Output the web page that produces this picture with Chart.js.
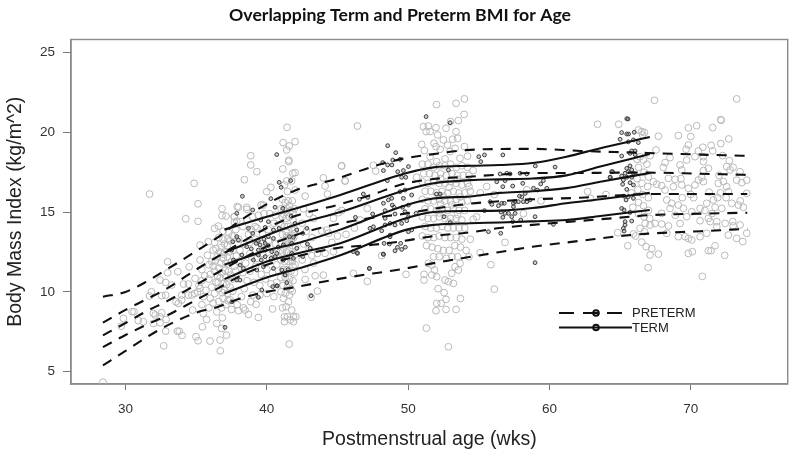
<!DOCTYPE html>
<html>
<head>
<meta charset="utf-8">
<title>Overlapping Term and Preterm BMI for Age</title>
<script src="https://cdn.jsdelivr.net/npm/chart.js@4"></script>
<style>
  html, body { margin: 0; padding: 0; background: #fff; }
  #wrap { width: 795px; height: 457px; }
  canvas { filter: blur(0.35px); }
</style>
</head>
<body>
<div id="wrap"><canvas id="bmiChart"></canvas></div>
<script>
// Main

const chartTitle = "Overlapping Term and Preterm BMI for Age";
const xLabel = "Postmenstrual age (wks)";
const yLabel = "Body Mass Index (kg/m^2)";
const seriesNames = ["PRETERM", "TERM"];
const xTicks = [30, 40, 50, 60, 70];
const yTicks = [5, 10, 15, 20, 25];

// percentile curves
const pretermAges = [28.4, 30, 31.5, 33, 35, 36.5, 38, 40, 42, 45, 47.5, 49.4, 51.8, 54.1, 56.5, 58.8, 62.2, 65, 67, 70.7, 74];
const pretermCurves = [
  [9.7, 10.0, 10.65, 11.45, 12.55, 13.4, 14.4, 15.5, 16.35, 17.1, 17.85, 18.3, 18.63, 18.88, 18.95, 18.96, 18.83, 18.75, 18.7, 18.6, 18.52],
  [8.07, 8.87, 9.55, 10.25, 11.4, 12.2, 13, 14, 14.75, 15.45, 16.1, 16.7, 17.07, 17.2, 17.35, 17.45, 17.45, 17.47, 17.47, 17.4, 17.33],
  [7.28, 8.05, 8.8, 9.45, 10.45, 11.2, 11.95, 12.85, 13.55, 14.25, 14.65, 14.85, 15.2, 15.5, 15.68, 15.8, 15.9, 16.05, 16.13, 16.13, 16.13],
  [6.54, 7.3, 7.95, 8.55, 9.5, 10.2, 10.95, 11.7, 12.2, 12.75, 12.95, 13.15, 13.5, 13.7, 14.0, 14.2, 14.45, 14.65, 14.8, 14.9, 14.96],
  [5.4, 6.3, 7.16, 7.92, 8.7, 9.05, 9.55, 10, 10.3, 10.8, 11.15, 11.4, 11.8, 12.15, 12.5, 12.83, 13.2, 13.5, 13.65, 13.8, 13.95]
];
const termAges = [37, 40, 42.35, 45.2, 49.9, 51.8, 54.4, 56.5, 58.8, 61.2, 63.6, 67.1];
const termCurves = [
  [13.9, 14.7, 15.3, 16.07, 17.45, 17.8, 17.9, 17.95, 18.07, 18.47, 19, 19.7],
  [12.45, 13.55, 14.3, 15, 16.4, 16.8, 17, 17.05, 17.1, 17.3, 17.85, 18.64],
  [11.7, 12.6, 13.1, 13.9, 15.45, 15.85, 15.98, 16.2, 16.3, 16.5, 16.9, 17.45],
  [10.8, 11.9, 12.45, 13.05, 14.63, 15, 15.07, 15.09, 15.25, 15.55, 15.8, 16.2],
  [9.9, 10.9, 11.5, 12.3, 13.9, 14.2, 14.3, 14.35, 14.42, 14.5, 14.75, 15.13]
];

// preterm measurements, [age, bmi], roughly by visit
const pretermFirst = [
  [28.4,4.35],[34.85,16.8],[31.7,16.13],[35.13,15.52],[34.26,14.58],[35.13,14.42],[36.83,15.21],[36.83,14.77],[37.11,14.75],[37.9,15.34],[37.7,14.7],[37.7,14.37],
  [36.3,13.98],[36.57,14.12],[35.27,12.93],[35.86,13.14],[36.2,12.62],[32.98,11.89],[33.7,11.26],[32.98,11.2],[34.5,11.57],[35.27,12],[32.44,10.74],[32.84,10.59],
  [33.27,10.43],[34.1,10.49],[34.45,10.49],[31.83,10.01],[31.7,9.74],[32.56,9.76],[32.84,9.8],[33.57,9.38],[33.97,9.49],[34.45,9.8],[34.7,9.8],[30.46,8.76],[30.6,8.76],
  [29.85,8.34],[31.97,8.65],[32.1,8.55],[32.44,8.44],[32.56,8.69],[31.26,8.13],[31.97,8.02],[32.44,8.07],[32.87,8.27],[32.84,7.54],[33.67,7.54],[33.8,7.54],[34,7.27],
  [32.7,6.62],[34.99,7.19],[35.13,6.94],[35.98,6.92],[36.69,6.98],[36.71,6.31],[37.14,7.29],[36.8,7.71],[36.45,8.02],[35.44,7.81],[35.74,8.27],[36.45,8.75],[36.85,8.38],
  [35.5,8.65],[34.75,8.86],[33.74,9.28],[33.97,9.8],[35.27,10.22],[34.92,10.84],[29.7,7.85],[30.9,8.2],[35.8,12.3],[35.9,11.7],[35.4,11.4],[36.1,11.9],[36.3,11.3],
  [36.5,12.2],[36.6,11.5],[36.8,12.8],[36.9,13.3],[37,12.5],[37.1,11.8],[36.7,10.9],[36.4,10.6],[36.1,10.3],[35.7,10.1],[35.5,9.7],[36,9.6],[36.3,9.9],[36.6,10.2],
  [36.9,10.5],[37.1,10.9],[37.3,11.3],[37.5,11.9],[37.6,12.6],[37.4,13.2],[37.3,13.7],[36.9,13.8],[36.6,13.4],[36.3,13.1],[35.4,10.7],[35.1,10],[35.9,10.8],[36.2,9.3],
  [36.6,9.4],[36.9,9.6],[37.2,9.9],[37.4,10.3],[37.6,10.8],[37.8,11.3],[38,11.9],[38.1,12.6],[38,13.3],[37.8,13.9],[36.8,9.0],[37.1,9.2],[37.4,9.5],[35.4,9.2],[35.9,9.0],
  [37,10.1],[36.8,11.2],[36.5,11],[37.2,12.2],[36.9,12.1],[36.4,12.7],[36.7,12.5],[37,13],[37.2,12.9],[36.2,11.6],[36,11.1],[35.6,11],[35.2,10.4],[34.9,9.9],[37.5,8.9],
  [37.9,9.2],[38.2,9.7],[38.4,10.2],[38.6,10.7],[38.3,11.2],[38.5,11.8],[38.8,12.4],[38.4,13],[38.7,13.6],[38.3,14.1],
  [36.95,12.35],[37.05,11.35],[37.15,10.45],[36.85,9.95],[36.75,11.8],[37.35,12.5],[37.45,11.05],[37.25,9.45],[36.55,10.6],[36.35,11.95],[37.6,10.05],[37.7,11.6],[37.55,13.5],[37.25,13.35],[37.85,12.25]
];
const pretermSecond = [
  [41.43,20.31],[41.15,19.35],[42,19.41],[41.58,19.14],[41.41,18.89],[38.86,18.53],[38.86,17.95],[39.29,17.53],[38.41,17.03],[41.55,18.26],[41.55,18.16],[41.13,17.7],
  [41.84,17.43],[42,17.47],[41.41,16.95],[41.76,16.95],[41.25,16.7],[40.28,16.55],[39.99,16.28],[42,16.38],[41.46,16.28],[42.71,16],[44,17.14],[44.12,16.63],[44.29,16.13],
  [45.28,17.89],[45.54,16.95],[39.59,15.44],[39.75,15.44],[38.58,15.3],[37.99,15.3],[37.68,14.71],[37.87,14.44],[38.15,14.4],[38.58,15.17],[39.17,14.09],[37.99,8.82],
  [38.34,9],[38.46,8.86],[38.7,8.59],[39.4,8.4],[40.4,8.93],[38.86,9.38],[39.24,9.22],[41.1,9],[41.36,9.07],[41.25,8.44],[41.25,8.13],[41.46,8.44],[41.65,8.24],[41.88,8.44],
  [41.88,8.13],[42.05,8.44],[41.76,8.86],[41.53,9.38],[41.17,9.59],[41.58,6.73],[43.13,9.66],[43.58,10.05],[42.71,10.78],[43.42,11.01],[44,11.05],[44.71,12.52],[44.12,12.41],
  [43.18,12.27],[43.58,12.41],[44.24,13.88],[43.89,13.81],[44.36,13.67],[44.71,14.61],[45.07,14.96],[45.3,15.1],
  [41.1,15.8],[41.3,15.6],[41.5,15.7],[41.8,15.7],[41,15.2],[41.2,15.1],[41.45,15.2],[41.7,15.1],[41.95,15.2],[41.1,14.7],[41.35,14.6],[41.6,14.7],[41.85,14.5],[41,14.2],
  [41.25,14.1],[41.5,14.1],[41.75,14],[42,13.9],[41.1,13.6],[41.4,13.5],[41.65,13.5],[41.9,13.4],[41,13.1],[41.3,13],[41.55,13],[41.8,12.9],[42.05,12.8],[41.1,12.5],[41.4,12.5],
  [41.7,12.4],[41.95,12.3],[41,12],[41.25,11.9],[41.5,11.9],[41.8,11.9],[42,11.7],[41.15,11.4],[41.45,11.4],[41.7,11.3],[41.95,11.2],[41,10.9],[41.3,10.9],[41.6,10.8],[41.85,10.7],
  [41.15,10.4],[41.45,10.3],[41.7,10.2],[41,10],[41.3,9.9],[41.6,9.8],
  [41.2,14.85],[41.6,15.4],[41.85,14.95],[41.35,13.8],[41.75,13.25],[41.2,12.75],[41.6,12.15],[41.85,11.6],[41.3,11.15],[41.55,10.55],[41.8,10.05],[41.15,12.25],[41.45,13.25],[41.95,13.65],
  [38.6,14.5],[39,14.7],[39.4,14.8],[39.8,14.9],[40.2,14.9],[40.6,14.8],[38.9,13.9],[39.3,14],[39.7,13.6],[40.1,13.9],[40.5,14.3],[38.8,13.1],[39.2,13.3],[39.6,13],[40.1,13.2],
  [40.6,13],[38.9,12.2],[39.3,12.1],[39.7,12.4],[40.2,12.1],[40.6,12.4],[38.8,11.3],[39.2,11.6],[39.6,11.1],[40,11.4],[40.4,11.2],[40.7,11.7],[39.1,10.6],[39.5,10.4],[39.9,10.8],
  [40.3,10.5],[40.7,10.6],[39,9.8],[39.5,9.8],[40,9.9],[40.5,9.7],[42.6,15.2],[43,14.9],[43.3,14.6],[42.5,14.3],[42.8,13.8],[43.2,13.4],[42.6,13],[43,12.7],[42.5,12],[43.3,11.8],
  [42.7,11.4],[44.6,13.1],[45,13.5],[45.6,13.6],[46.2,14],[46.6,14.5]
];
const pretermThird = [
  [52,21.73],[53.39,21.81],[53.98,22.09],[53.96,21.12],[53.55,20.73],[46.41,20.39],[51.08,20.35],[51.43,20.39],[51.97,20.29],[51.27,20.04],[51.55,20.04],[52.68,20.25],
  [53,20.67],[53.39,20.04],[53.5,19.62],[52.09,19.83],[52.49,19.52],[53.15,19.56],[50.96,19.24],[51.83,19.31],[51.97,19.1],[52.78,19.2],[53.32,18.99],[53.98,19.1],[51.15,18.85],
  [52.26,18.93],[52.96,18.79],[51.55,18.47],[52.02,18.16],[52.61,18.33],[53.67,18.37],[54.2,18.5],[51.29,7.73],[52.85,6.56],[52.02,9.28],[52.33,9.28],[51.97,8.82],[52.68,8.9],
  [53.39,8.9],[52.68,9.53],[53.7,9.59],[52.54,9.95],[52.12,10.2],[51.12,10.74],[51.12,11.1],[51.67,11.06],[52.02,10.95],[52.61,10.74],[52.85,10.64],[53.2,10.53],[53.08,11.16],
  [53.55,11.37],[51.86,11.37],[51.43,11.79],[51.67,11.68],[53.32,11.58],[53.67,11.79],[45.3,17.89],[45.53,16.95],[47.54,17.93],[47.7,17.57],[47.11,15.23],[49.85,11.1],[46.12,11.16],
  [47.11,10.66],[48.13,12.27],[50.6,17.18],[55.1,12.45],[55.85,11.7],[56.1,10.17],[56.85,13.1],[54.4,13.3],
  [51,18],[51.4,18],[51.8,17.8],[52.2,17.9],[52.6,17.9],[53,18],[53.4,17.8],[53.8,17.9],[54.2,17.8],[51.1,17.4],[51.5,17.4],[51.9,17.3],[52.3,17.4],[52.7,17.3],[53.1,17.4],[53.5,17.3],
  [53.9,17.3],[54.3,17.3],[51,16.9],[51.4,16.8],[51.8,16.9],[52.2,16.8],[52.6,16.8],[53,16.9],[53.4,16.8],[53.8,16.7],[54.2,16.8],[51.2,16.3],[51.6,16.3],[52,16.2],[52.4,16.3],[52.8,16.2],
  [53.2,16.3],[53.6,16.2],[54,16.2],[54.4,16.3],[51,15.8],[51.4,15.7],[51.8,15.7],[52.2,15.8],[52.6,15.7],[53,15.7],[53.4,15.8],[53.8,15.6],[54.2,15.7],[51.2,15.2],[51.6,15.2],[52,15.1],
  [52.4,15.2],[52.8,15.1],[53.2,15.2],[53.6,15.1],[54,15.1],[51,14.7],[51.4,14.6],[51.8,14.6],[52.2,14.7],[52.6,14.6],[53,14.6],[53.4,14.6],[53.8,14.5],[51.2,14.1],[51.6,14],[52,14],
  [52.4,14.1],[52.8,14],[53.2,14],[53.6,14],[54,14],[51,13.5],[51.4,13.4],[51.8,13.4],[52.2,13.5],[52.6,13.4],[53,13.4],[53.4,13.4],[53.8,13.3],[51.3,12.9],[51.7,12.8],[52.1,12.7],
  [52.5,12.6],[52.9,12.6],[53.3,12.9],[53.7,12.8],[54.1,12.6],[51.8,12.2],[52.2,12.2],[52.7,12.1],[53.1,12.2],[53.5,12.2],[54.3,12.2],
  [52.3,17.1],[52.9,16.55],[53.5,17.05],[52.5,16],[53.1,15.45],[53.7,15.95],[52.2,14.95],[52.9,14.35],[53.5,14.85],[52.3,15.5],[54.85,14.7],[54.6,14.55],[55.56,16.6],[55.1,16.2],[56.1,16.1],
  [58.4,16.4],[59.4,15.7],[62.7,16.28],[64,16.1],[62.9,15.86],[58.16,14.9],[54.6,17.6],[54.3,16.6]
];
const pretermFourth = [
  [67.43,22],[73.25,22.09],[67.71,19.75],[69.12,19.79],[69.83,20.27],[70.42,20.41],[70,19.73],[71.55,20.29],[72.12,20.79],[72.15,20.75],[72.69,19.58],[72.12,19.29],[71.44,19.18],
  [69.83,19.2],[69.67,18.93],[70.85,19.06],[71.55,18.83],[70.54,18.83],[67.54,18.89],[66.29,20.14],[66.53,20.04],[66.72,19.98],[66.6,19.83],[67.12,18.53],[68.53,18.41],[68.18,18.1],
  [68.06,17.8],[69.24,17.95],[69.71,18.26],[70.3,18.47],[70.89,18.47],[70.89,18.16],[71.25,17.74],[72.26,18.53],[72.73,18.22],[72.54,17.85],[73,17.8],[72.78,17.64],[73.49,17.53],
  [73.96,17],[73.61,16.84],[73.25,17],[68.42,17.11],[68.89,17.05],[69.3,17.1],[69.36,17.64],[68.77,16.59],[69.36,16.7],[69.83,16.49],[70.3,16.7],[70.77,17.18],[70.54,17.01],[70.89,16.91],
  [72.31,16.91],[71.95,16.8],[72.54,16.59],[72.66,16.28],[71.3,16.25],[67.35,16.9],[67.59,16.74],[67.94,16.65],[68.18,16.38],[68.3,15.76],[68.65,15.55],[68.53,15.23],[69.12,15.44],
  [69.48,15.23],[70.07,15.02],[70.66,15.23],[71.13,15.55],[71.6,15.76],[71.72,15.3],[72.19,15.23],[72.9,15.55],[73.37,15.44],[73.72,15.3],[73.96,16.17],[73.5,15.7],[67.94,14.92],
  [69.24,14.29],[69.71,14.71],[70.66,14.46],[71.25,14.61],[71.37,14.4],[71.84,14.4],[72.43,14.29],[72.97,14.4],[73,14.13],[73.49,14.19],[73.96,13.67],[73.25,13.35],[73.68,13.15],
  [72.66,13.56],[71.84,14.08],[71.13,13.67],[70.66,13.46],[70.07,13.25],[69.83,13.35],[69.6,13.46],[69.12,13.46],[68.3,13.67],[68.42,14.13],[67.94,14.25],[67.47,14.29],[67.12,14.19],
  [66.77,14.29],[66.41,13.98],[66.72,13.77],[65.94,13.63],[66.1,13.5],[64.83,13.71],[65.54,12.89],[66.53,13.12],[66.84,12.83],[67.24,12.71],[67.12,12.31],[67.71,12.37],[66.98,11.52],
  [69.83,12.41],[70.11,12.52],[71.25,12.58],[71.44,12.58],[71.72,12.89],[72.4,12.29],[70.82,10.97],[66.41,18.47],[66.65,18.26],[66.2,18.3],[66.9,18],[66.3,17.8],[66.7,17.5],[67,17.2],
  [66.2,17.1],[66.55,16.8],[66.95,16.6],[66.25,16.4],[66.6,16.1],[67,15.9],[66.3,15.6],[66.65,15.4],[67,15.1],[66.3,14.9],[66.7,14.7],[67.1,14.6],[65.9,15.3],[65.8,16.2],[72.1,16.2],
  [71.9,15.9],[72.5,15.9],[70.2,15.9],[70,16.1],[69.4,15.9],[71,15.1],[71.5,14.9],[68.9,14.8],[72,17.3],[70.9,17.6],[64.9,20.5],[63.4,20.5]
];

// term measurements, [age, bmi]
const termFirst = [
  [40.7,18.6],[38.27,15.99],[40.87,16.86],[41.69,16.97],[41.01,16.55],[40.28,15.84],[39,15.13],[37.87,14.92],[40.58,15.3],[41.13,15.23],[41.72,14.75],[39.57,14.5],[40.11,14.4],[38.7,13.98],
  [39,13.67],[39.88,14.04],[40.47,13.88],[40.87,13.98],[42,14.29],[42.12,13.88],[42.83,13.98],[42.54,13.67],[41.6,13.46],[41.88,13.42],[37.87,13.46],[37.59,13.14],[37.99,13.25],[38.58,12.83],
  [39.24,13.04],[39.52,12.94],[39.88,13.04],[40.47,13.35],[40.11,13.46],[39.4,12.62],[39.88,12.62],[40.35,12.52],[40.7,12.41],[41.17,12.94],[41.76,13.04],[42.12,12.73],[42.87,13],[42.54,12.21],
  [43.06,12.73],[38.23,12.31],[39.4,12.31],[39.88,12.21],[40.58,12.21],[41.17,12],[41.76,12.41],[41.88,12.1],[38.11,11.68],[38.34,11.47],[39.05,12],[39.29,11.37],[39.76,11.58],[40.47,11.47],
  [41.06,11.37],[41.5,11.4],[37.87,10.74],[38.1,10.74],[41.29,11.06],[41.41,10.58],[40.42,10.33],[40.7,10.39],[39.64,10.12],[39.4,9.66],[43.13,9.76],[37.52,9.38],[37.64,12],[37.52,12.62],
  [37.04,7.78],[40.74,10.37],[46.4,12.45],[48.24,12.37],[47.25,11.47],[39.8,13.3],[40.1,12.9],[39.4,13.2],[40.8,12.8],[40.3,12.1],[39.6,12],[38.9,12.7]
];
const termSecond = [
  [51.27,20.98],[52.97,20.6],[48.55,19.16],[49.12,18.72],[48.2,18.1],[48.55,17.95],[48.91,18.26],[48.85,17.95],[49.43,18.3],[50.02,17.85],[49.26,17.53],[49.66,17.6],[48.25,17.6],[48.53,16.97],
  [49.54,17.18],[49.83,17.18],[46.83,16.13],[47.14,15.92],[46.55,15.8],[49.78,16.38],[49.43,16.28],[50.25,16.07],[49.66,15.86],[48.84,15.86],[48.6,15.76],[48.25,15.55],[48.88,15.44],[49,15.3],
  [49.6,15.3],[50.02,15.44],[50.56,14.92],[47.49,14.88],[46.27,14.67],[48.37,15.09],[48.37,14.61],[49.07,14.88],[49.78,15.02],[50.02,14.71],[49.9,14.46],[49.54,14.29],[49.07,14.19],[48.72,14.29],
  [48.37,14.19],[48.13,13.83],[48.72,13.56],[48.72,13.45],[47.54,14.08],[47.3,13.98],[50.25,13.88],[50.02,13.77],[48.3,13.04],[48.67,13],[49.47,13.04],[49.24,12.79],[49.07,12.58],[49.54,12.66],
  [49.8,12.8],[48.25,12.35],[46.41,12.41],[46.12,12.52],[47.26,11.47],[52.26,16.13],[52,16.13],[52.85,17.64],[52.54,14.71],[52.97,14.34]
];
const termThird = [
  [55,18.47],[55.4,18.58],[55.14,18.16],[56.7,18.58],[59,17.89],[60.4,17.82],[56.51,17.39],[56.98,17.43],[57.21,17.39],[57.92,17.43],[58.39,17.39],[56.27,16.9],[56.86,16.97],[56.7,16.59],[57.4,16.63],
  [58.11,16.8],[59.57,16.97],[59.38,16.76],[58.87,16.49],[59.81,16.49],[59.15,16.38],[58.28,16.17],[57.88,16],[58.05,15.95],[57.57,15.65],[57.8,15.65],[58.15,15.65],[58.4,15.65],[58.63,15.76],[57.45,15.55],
  [57.45,15.34],[55.8,15.65],[55.92,15.48],[56.39,15.4],[56.62,15.55],[56.8,15.55],[55.4,15.09],[56.58,15],[56.86,14.92],[57.1,14.92],[57.57,14.92],[57.33,14.71],[56.7,14.67],[57.97,14.5],[58.98,14.71],
  [57.4,14.4],[55.68,13.77],[56.55,13.67],[60.28,14.23],[58.98,11.83],[64.3,17.18],[64.46,17.53]
];
const termFourth = [
  [65.47,20.85],[65.56,20.83],[65.11,19.98],[65.47,19.89],[65.6,19.89],[66,20],[65,19.56],[65.94,19.52],[66.29,19.35],[65.58,19.4],[65.82,18.83],[66.06,18.83],[65.7,18.68],[65.11,18.51],[66.06,18.6],
  [64.4,17.53],[64.29,17.18],[65.7,17.89],[65.47,17.74],[65.82,17.64],[65.58,17.53],[65.35,17.43],[65.94,17.43],[65.11,17.26],[65.47,17.18],[65.82,17.18],[65.23,17.01],[65.7,16.84],[65.18,16.74],[65.94,16.7],
  [65.47,16.42],[65.28,16],[65.58,15.96],[65.94,15.86],[65.42,15.76],[65.11,15.23],[65.28,15.13],[65.7,14.98],[65.82,14.44],[65.35,14.4],[65.35,14.19],[65.23,13.98],[65.28,13.81]
];

// R style box, ticks only on the labelled values
const frameBox = {
  id: "frameBox",
  afterLayout(chart) {
    // title is centred on the whole page, not on the padded box
    chart.titleBlock.left += 6.2;
    chart.titleBlock.right += 6.2;
  },
  beforeDatasetsDraw(chart) {
    const a = chart.chartArea, ctx = chart.ctx;
    ctx.save();
    ctx.strokeStyle = "#8a8a8a";
    ctx.lineWidth = 1.4;
    ctx.strokeRect(a.left, a.top, a.right - a.left, a.bottom - a.top);
    ctx.restore();
  }
};

// legend sits inside the plot, the built in one cant go there
const lineKey = {
  id: "lineKey",
  afterDatasetsDraw(chart) {
    const ctx = chart.ctx;
    ctx.save();
    ctx.strokeStyle = "#111";
    ctx.fillStyle = "#222";
    ctx.font = "13px 'Liberation Sans', Arial, sans-serif";
    ctx.textBaseline = "middle";
    [[313, [15, 9]], [327.5, []]].forEach(function(row, i) {
      ctx.lineWidth = 2;
      ctx.setLineDash(row[1]);
      ctx.beginPath();
      ctx.moveTo(559, row[0]);
      ctx.lineTo(i === 0 ? 627 : 632, row[0]);
      ctx.stroke();
      ctx.setLineDash([]);
      ctx.beginPath();
      ctx.arc(596, row[0], 2.8, 0, Math.PI * 2);
      ctx.stroke();
      ctx.fillText(seriesNames[i], 632, row[0] + 0.5);
    });
    ctx.restore();
  }
};

function curveData(ages, values) {
  return ages.map(function(a, i) { return { x: a, y: values[i] }; });
}

const datasets = [];
pretermCurves.forEach(function(c, i) {
  datasets.push({ label: seriesNames[0] + " " + i, data: curveData(pretermAges, c), showLine: true, borderColor: "#111", borderWidth: 2.1, borderDash: [10, 8], pointRadius: 0, cubicInterpolationMode: "monotone", order: 0 });
});
termCurves.forEach(function(c, i) {
  datasets.push({ label: seriesNames[1] + " " + i, data: curveData(termAges, c), showLine: true, borderColor: "#111", borderWidth: 2.1, pointRadius: 0, cubicInterpolationMode: "monotone", order: 0 });
});
datasets.push({
  label: seriesNames[0] + " points",
  data: pretermFirst.concat(pretermSecond, pretermThird, pretermFourth).map(function(p) { return { x: p[0], y: p[1] }; }),
  showLine: false, pointRadius: 3.4, pointBorderWidth: 1, pointBorderColor: "#b9b9b9", pointBackgroundColor: "transparent", order: 2
});
datasets.push({
  label: seriesNames[1] + " points",
  data: termFirst.concat(termSecond, termThird, termFourth).map(function(p) { return { x: p[0], y: p[1] }; }),
  showLine: false, pointRadius: 1.9, pointBorderWidth: 1, pointBorderColor: "#3c3c3c", pointBackgroundColor: "rgba(120,120,120,0.35)", order: 1
});

new Chart(document.getElementById("bmiChart"), {
  type: "scatter",
  data: { datasets: datasets },
  plugins: [frameBox, lineKey],
  options: {
    responsive: true,
    maintainAspectRatio: false,
    animation: false,
    layout: { padding: { left: 0, right: 7.3, top: 0, bottom: 0 } },
    plugins: {
      legend: { display: false },
      tooltip: { enabled: false },
      title: {
        display: true,
        text: chartTitle,
        color: "#111",
        font: { family: "Lato, 'Open Sans', sans-serif", size: 17.7, weight: "bold", lineHeight: 1.2 },
        padding: { top: 5, bottom: 13.26 }
      }
    },
    scales: {
      x: {
        type: "linear",
        min: 26.14,
        max: 76.86,
        afterBuildTicks(axis) { axis.ticks = xTicks.map(function(v) { return { value: v }; }); },
        afterFit(axis) { axis.height = 73; },
        grid: { drawOnChartArea: false, drawTicks: true, tickLength: 6, color: "#777" },
        border: { color: "#8a8a8a", width: 1.4 },
        ticks: { color: "#333", padding: 11, maxRotation: 0, font: { family: "'Liberation Sans', Arial, sans-serif", size: 13.5 } },
        title: { display: true, text: xLabel, color: "#222", padding: { top: 0, bottom: 5.3 }, font: { family: "'Liberation Sans', Arial, sans-serif", size: 19.5 } }
      },
      y: {
        type: "linear",
        min: 4.23,
        max: 25.81,
        afterBuildTicks(axis) { axis.ticks = yTicks.map(function(v) { return { value: v }; }); },
        afterFit(axis) { axis.width = 71; },
        grid: { drawOnChartArea: false, drawTicks: true, tickLength: 8, color: "#777" },
        border: { color: "#8a8a8a", width: 1.4 },
        ticks: { color: "#333", padding: 8, font: { family: "'Liberation Sans', Arial, sans-serif", size: 13.5 } },
        title: { display: true, text: yLabel, color: "#222", padding: { top: 3.5, bottom: 0 }, font: { family: "'Liberation Sans', Arial, sans-serif", size: 19.5 } }
      }
    }
  }
});
</script>
</body>
</html>
